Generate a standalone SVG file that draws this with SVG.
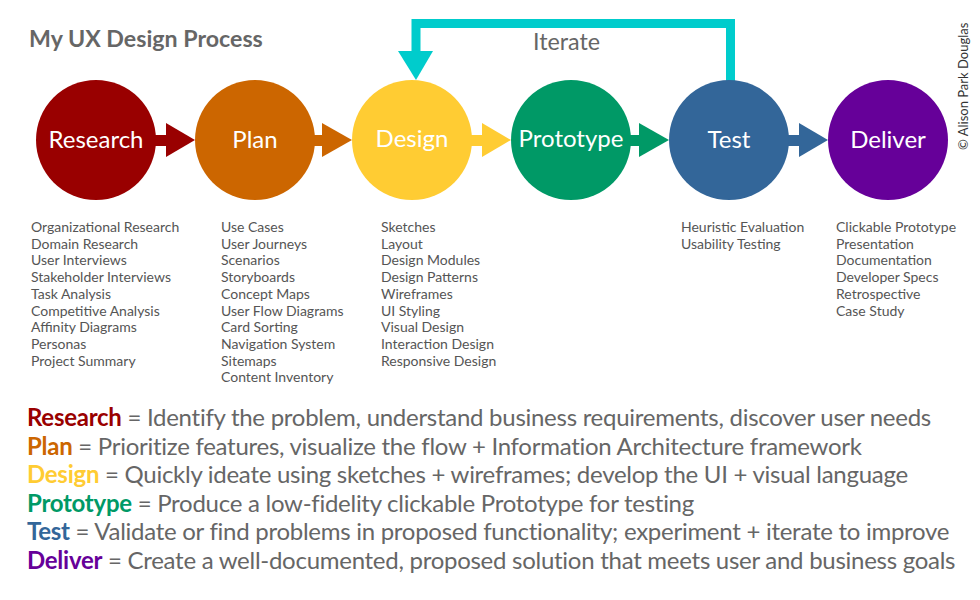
<svg xmlns="http://www.w3.org/2000/svg" width="980" height="600" viewBox="0 0 980 600">
<style>
text{font-family:Lato,"Open Sans","Liberation Sans",sans-serif}
.title{font-size:23.2px;font-weight:bold;fill:#666}
.lbl{font-size:24px;fill:#fff;text-anchor:middle}
.li{font-size:14px;fill:#555}
.leg{font-size:24px;fill:#666;letter-spacing:-0.27px}
.b{font-weight:bold}
</style>
<rect width="980" height="600" fill="#fff"/>
<text class="title" x="29" y="47">My UX Design Process</text>
<text x="533" y="50" style="font-size:23.3px;fill:#666">Iterate</text>
<text transform="translate(968,150) rotate(-90)" style="font-size:13px;fill:#333">© Alison Park Douglas</text>
<g id="connectors">
<g id="c1" fill="#990000"><rect x="155" y="135" width="13" height="11"/><polygon points="166,123 195,140 166,157"/></g>
<g id="c2" fill="#CC6600"><rect x="314" y="135" width="10" height="11"/><polygon points="322,123 352,140 322,157"/></g>
<g id="c3" fill="#FFCC33"><rect x="471" y="135" width="13" height="11"/><polygon points="482,123 511,140 482,157"/></g>
<g id="c4" fill="#009966"><rect x="630" y="135" width="11" height="11"/><polygon points="639,123 669,140 639,157"/></g>
<g id="c5" fill="#336699"><rect x="788" y="135" width="13" height="11"/><polygon points="799,123 828,140 799,157"/></g>
<g id="iterate"><path d="M730.5,81 V23.5 H416 V52" fill="none" stroke="#00CCCC" stroke-width="9"/><polygon points="398,51 433,51 416,80" fill="#00CCCC"/></g>
</g>
<g id="research"><circle cx="96" cy="140" r="60" fill="#990000"/><text class="lbl" x="96" y="148">Research</text></g>
<g id="plan"><circle cx="255" cy="140" r="60" fill="#CC6600"/><text class="lbl" x="255" y="148">Plan</text></g>
<g id="design"><circle cx="412" cy="140" r="60" fill="#FFCC33"/><text class="lbl" x="412" y="147">Design</text></g>
<g id="prototype"><circle cx="571" cy="140" r="60" fill="#009966"/><text class="lbl" x="571" y="147">Prototype</text></g>
<g id="test"><circle cx="729" cy="140" r="60" fill="#336699"/><text class="lbl" x="729" y="148">Test</text></g>
<g id="deliver"><circle cx="888" cy="140" r="60" fill="#660099"/><text class="lbl" x="888" y="148">Deliver</text></g>
<g id="research-list">
<text class="li" x="31" y="232">Organizational Research</text>
<text class="li" x="31" y="248.7">Domain Research</text>
<text class="li" x="31" y="265.4">User Interviews</text>
<text class="li" x="31" y="282.1">Stakeholder Interviews</text>
<text class="li" x="31" y="298.8">Task Analysis</text>
<text class="li" x="31" y="315.5">Competitive Analysis</text>
<text class="li" x="31" y="332.2">Affinity Diagrams</text>
<text class="li" x="31" y="348.9">Personas</text>
<text class="li" x="31" y="365.6">Project Summary</text>
</g>
<g id="plan-list">
<text class="li" x="221" y="232">Use Cases</text>
<text class="li" x="221" y="248.7">User Journeys</text>
<text class="li" x="221" y="265.4">Scenarios</text>
<text class="li" x="221" y="282.1">Storyboards</text>
<text class="li" x="221" y="298.8">Concept Maps</text>
<text class="li" x="221" y="315.5">User Flow Diagrams</text>
<text class="li" x="221" y="332.2">Card Sorting</text>
<text class="li" x="221" y="348.9">Navigation System</text>
<text class="li" x="221" y="365.6">Sitemaps</text>
<text class="li" x="221" y="382.3">Content Inventory</text>
</g>
<g id="design-list">
<text class="li" x="381" y="232">Sketches</text>
<text class="li" x="381" y="248.7">Layout</text>
<text class="li" x="381" y="265.4">Design Modules</text>
<text class="li" x="381" y="282.1">Design Patterns</text>
<text class="li" x="381" y="298.8">Wireframes</text>
<text class="li" x="381" y="315.5">UI Styling</text>
<text class="li" x="381" y="332.2">Visual Design</text>
<text class="li" x="381" y="348.9">Interaction Design</text>
<text class="li" x="381" y="365.6">Responsive Design</text>
</g>
<g id="test-list">
<text class="li" x="681" y="232">Heuristic Evaluation</text>
<text class="li" x="681" y="248.7">Usability Testing</text>
</g>
<g id="deliver-list">
<text class="li" x="836" y="232">Clickable Prototype</text>
<text class="li" x="836" y="248.7">Presentation</text>
<text class="li" x="836" y="265.4">Documentation</text>
<text class="li" x="836" y="282.1">Developer Specs</text>
<text class="li" x="836" y="298.8">Retrospective</text>
<text class="li" x="836" y="315.5">Case Study</text>
</g>
<g id="legend">
<text class="leg" x="27" y="426"><tspan class="b" fill="#990000">Research</tspan> = Identify the problem, understand business requirements, discover user needs</text>
<text class="leg" x="27" y="454.5"><tspan class="b" fill="#CC6600">Plan</tspan> = Prioritize features, visualize the flow + Information Architecture framework</text>
<text class="leg" x="27" y="483"><tspan class="b" fill="#FFCC33">Design</tspan> = Quickly ideate using sketches + wireframes; develop the UI + visual language</text>
<text class="leg" x="27" y="511.5"><tspan class="b" fill="#009966">Prototype</tspan> = Produce a low-fidelity clickable Prototype for testing</text>
<text class="leg" x="27" y="540"><tspan class="b" fill="#336699">Test</tspan> = Validate or find problems in proposed functionality; experiment + iterate to improve</text>
<text class="leg" x="27" y="568.5"><tspan class="b" fill="#660099">Deliver</tspan> = Create a well-documented, proposed solution that meets user and business goals</text>
</g>
</svg>
